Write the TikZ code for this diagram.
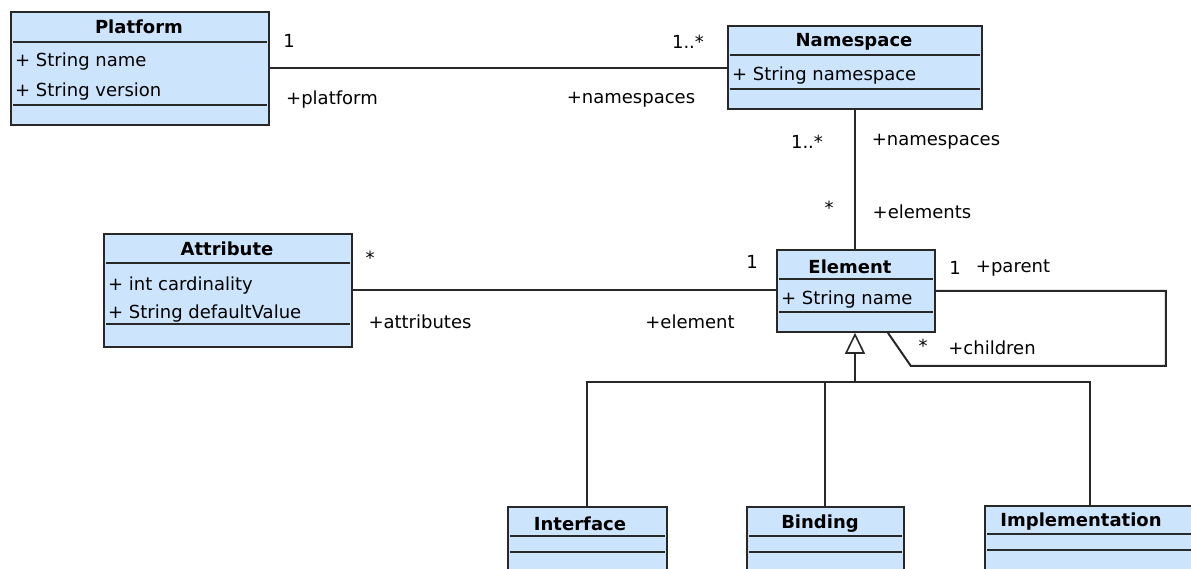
\documentclass[tikz,border=0pt]{standalone}
\usepackage{fontspec}
\setmainfont{DejaVu Sans}
\usetikzlibrary{arrows.meta}
\definecolor{classblue}{RGB}{204,228,252}
\definecolor{rule}{RGB}{40,40,40}

\begin{document}
\begin{tikzpicture}[x=1pt,y=-1pt,
    cls/.style={draw=rule,fill=classblue,line width=1.8pt,anchor=north west,inner sep=0pt},
    sep/.style={draw=rule,line width=1.6pt,shorten <=3pt,shorten >=3pt},
    link/.style={draw=rule,line width=2pt},
    title/.style={font=\fontsize{18}{18}\selectfont\bfseries,inner sep=0pt},
    attr/.style={font=\fontsize{18}{18}\selectfont,anchor=west,inner sep=0pt},
    lbl/.style={font=\fontsize{18}{18}\selectfont,inner sep=0pt}]
\clip (0,0) rectangle (1191,568);
\fill[white] (0,0) rectangle (1191,568);

% classes
\begin{scope}
    \node[cls,minimum width=258pt,minimum height=113pt] (platform) at (10,11) {};
    \node[title] (platformT) at (139,27) {Platform};
    \node[attr] (platformA) at (15,62) {+ String name};
    \node[attr] (platformB) at (15,92) {+ String version};
    \path[sep] ([yshift=-31pt]platform.north west) edge[sep] ([yshift=-31pt]platform.north east);
    \path[sep] ([yshift=-94pt]platform.north west) edge[sep] ([yshift=-94pt]platform.north east);

    \node[cls,minimum width=254pt,minimum height=83pt] (namespace) at (727,25) {};
    \node[title] (namespaceT) at (854,42) {Namespace};
    \node[attr] (namespaceA) at (732,76) {+ String namespace};
    \path[sep] ([yshift=-30pt]namespace.north west) edge[sep] ([yshift=-30pt]namespace.north east);
    \path[sep] ([yshift=-64pt]namespace.north west) edge[sep] ([yshift=-64pt]namespace.north east);

    \node[cls,minimum width=248pt,minimum height=113pt] (attribute) at (103,233) {};
    \node[title] (attributeT) at (227,249) {Attribute};
    \node[attr] (attributeA) at (108,286) {+ int cardinality};
    \node[attr] (attributeB) at (108,314) {+ String defaultValue};
    \path[sep] ([yshift=-30pt]attribute.north west) edge[sep] ([yshift=-30pt]attribute.north east);
    \path[sep] ([yshift=-91pt]attribute.north west) edge[sep] ([yshift=-91pt]attribute.north east);

    \node[cls,minimum width=158pt,minimum height=82pt] (element) at (776,249) {};
    \node[title] (elementT) at (850,267) {Element};
    \node[attr] (elementA) at (781,300) {+ String name};
    \path[sep] ([yshift=-30pt]element.north west) edge[sep] ([yshift=-30pt]element.north east);
    \path[sep] ([yshift=-63pt]element.north west) edge[sep] ([yshift=-63pt]element.north east);
\end{scope}

\begin{scope}
    \node[cls,minimum width=159pt,minimum height=80pt] (interface) at (507,506) {};
    \node[title] (interfaceT) at (580,524) {Interface};
    \path[sep] ([yshift=-30pt]interface.north west) edge[sep] ([yshift=-30pt]interface.north east);
    \path[sep] ([yshift=-46pt]interface.north west) edge[sep] ([yshift=-46pt]interface.north east);

    \node[cls,minimum width=157pt,minimum height=80pt] (binding) at (746,506) {};
    \node[title] (bindingT) at (820,524) {Binding};
    \path[sep] ([yshift=-30pt]binding.north west) edge[sep] ([yshift=-30pt]binding.north east);
    \path[sep] ([yshift=-46pt]binding.north west) edge[sep] ([yshift=-46pt]binding.north east);

    \node[cls,minimum width=210pt,minimum height=82pt] (implementation) at (984,505) {};
    \node[title] (implementationT) at (1081,522) {Implementation};
    \path[sep] ([yshift=-29pt]implementation.north west) edge[sep] ([yshift=-29pt]implementation.north east);
    \path[sep] ([yshift=-45pt]implementation.north west) edge[sep] ([yshift=-45pt]implementation.north east);
\end{scope}

% associations
\path [link] (platform.east) edge[link] (platform.east -| namespace.west);
\node[lbl] (pm) at (289,41) {1};
\node[lbl] (pr) at (332,100) {+platform};
\node[lbl] (nm) at (688,42) {1..*};
\node[lbl] (nr) at (631,100) {+namespaces};

\path [link] (namespace.south) edge[link] (namespace.south |- element.north);
\node[lbl] (em) at (807,142) {1..*};
\node[lbl] (er) at (936,142) {+namespaces};
\node[lbl] (km) at (829,208) {*};
\node[lbl] (kr) at (922,212) {+elements};

\path [link] (attribute.east) edge[link] (attribute.east -| element.west);
\node[lbl] (am) at (370,258) {*};
\node[lbl] (ar) at (420,322) {+attributes};
\node[lbl] (lm) at (752,262) {1};
\node[lbl] (lr) at (690,322) {+element};

\draw[link] (element.east) -- ++(230,0) -- ++(0,75) -- ++(-255,0) -- ([xshift=32pt]element.south);
\node[lbl] (sm) at (955,268) {1};
\node[lbl] (sr) at (1013,268) {+parent};
\node[lbl] (cm) at (923,346) {*};
\node[lbl] (cr) at (992,348) {+children};

% generalization
\coordinate (hub) at (855,382);
\draw[link,-{Triangle[open,length=21pt,width=20pt,fill=white,line width=1.6pt]}] (hub) -- (hub |- element.south);
\draw[link] (hub) -| (interface.north);
\draw[link] (hub) -| (binding.north);
\draw[link] (hub) -| (implementation.north);
\end{tikzpicture}
\end{document}
